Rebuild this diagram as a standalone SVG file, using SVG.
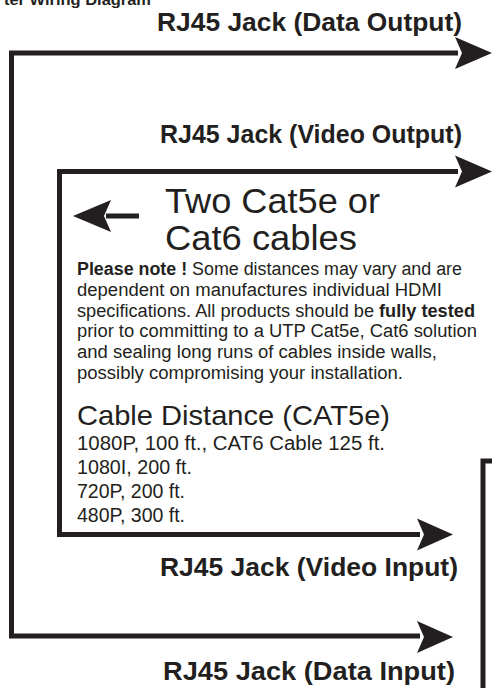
<svg xmlns="http://www.w3.org/2000/svg" width="492" height="688" viewBox="0 0 492 688">
<style>
.line{fill:none;stroke:#231f20;stroke-width:5;stroke-linejoin:miter;stroke-linecap:butt}
.head{fill:#231f20}
.t{font-family:"Liberation Sans",Arial,sans-serif;fill:#231f20}
.title{font-weight:bold;font-size:26px}
.para{font-size:18px}
.big{font-size:35px}
.mid{font-size:28.5px}
.list{font-size:20px}
</style>
<rect width="492" height="688" fill="#ffffff"/>
<text class="t" x="4" y="5" font-size="15" font-weight="bold" textLength="147" lengthAdjust="spacingAndGlyphs">ter Wiring Diagram</text>
<g id="connectors">
<path class="line" d="M458,53 H11.5 V636 H420"/>
<path class="line" d="M458,171.5 H59.5 V534.5 H420"/>
<path class="line" d="M492,461 H483 V688"/>
<path class="head" d="M492,53 L455,37 L462,53 L455,69 Z"/>
<path class="head" d="M492,171.5 L455,155.5 L462,171.5 L455,187.5 Z"/>
<path class="head" d="M453,534.5 L417,518.5 L424,534.5 L417,550.5 Z"/>
<path class="head" d="M453,637 L417,621 L424,637 L417,653 Z"/>
<path class="line" d="M106,216 H139"/>
<path class="head" d="M73,216 L111,200 L104,216 L111,232 Z"/>
</g>
<g id="data-output"><text class="t title" x="157" y="31" textLength="305" lengthAdjust="spacingAndGlyphs">RJ45 Jack (Data Output)</text></g>
<g id="video-output"><text class="t title" x="160" y="143" textLength="302" lengthAdjust="spacingAndGlyphs">RJ45 Jack (Video Output)</text></g>
<g id="cables">
<text class="t big" x="165" y="213" textLength="215" lengthAdjust="spacingAndGlyphs">Two Cat5e or</text>
<text class="t big" x="165" y="250" textLength="192" lengthAdjust="spacingAndGlyphs">Cat6 cables</text>
</g>
<g id="note">
<text class="t para" x="77" y="275" textLength="385" lengthAdjust="spacingAndGlyphs"><tspan font-weight="bold">Please note !</tspan> Some distances may vary and are</text>
<text class="t para" x="77" y="295.8" textLength="365" lengthAdjust="spacingAndGlyphs">dependent on manufactures individual HDMI</text>
<text class="t para" x="77" y="316.6" textLength="398" lengthAdjust="spacingAndGlyphs">specifications. All products should be <tspan font-weight="bold">fully tested</tspan></text>
<text class="t para" x="77" y="337.4" textLength="400" lengthAdjust="spacingAndGlyphs">prior to committing to a UTP Cat5e, Cat6 solution</text>
<text class="t para" x="77" y="358.2" textLength="360" lengthAdjust="spacingAndGlyphs">and sealing long runs of cables inside walls,</text>
<text class="t para" x="77" y="379" textLength="326" lengthAdjust="spacingAndGlyphs">possibly compromising your installation.</text>
</g>
<g id="distance">
<text class="t mid" x="77" y="425" textLength="313" lengthAdjust="spacingAndGlyphs">Cable Distance (CAT5e)</text>
<text class="t list" x="77" y="450" textLength="308" lengthAdjust="spacingAndGlyphs">1080P, 100 ft., CAT6 Cable 125 ft.</text>
<text class="t list" x="77" y="474" textLength="115" lengthAdjust="spacingAndGlyphs">1080I, 200 ft.</text>
<text class="t list" x="77" y="498" textLength="108" lengthAdjust="spacingAndGlyphs">720P, 200 ft.</text>
<text class="t list" x="77" y="522" textLength="108" lengthAdjust="spacingAndGlyphs">480P, 300 ft.</text>
</g>
<g id="video-input"><text class="t title" x="160" y="576" textLength="298" lengthAdjust="spacingAndGlyphs">RJ45 Jack (Video Input)</text></g>
<g id="data-input"><text class="t title" x="163" y="680" textLength="292" lengthAdjust="spacingAndGlyphs">RJ45 Jack (Data Input)</text></g>
</svg>
